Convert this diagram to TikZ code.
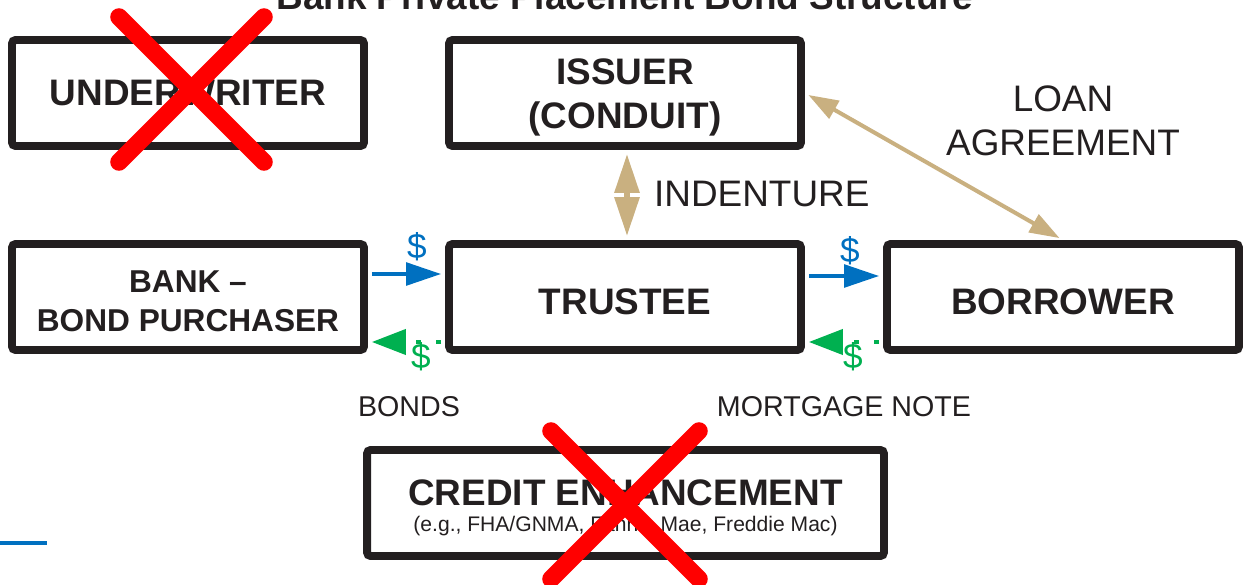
\documentclass[tikz,border=0pt]{standalone}
\usepackage{fontspec}
\setmainfont{Liberation Sans}
\usepackage{tikz}
\usetikzlibrary{arrows.meta, positioning}
\definecolor{boxline}{RGB}{35,31,32}
\definecolor{cashblue}{RGB}{0,112,192}
\definecolor{bondgreen}{RGB}{0,176,80}
\definecolor{legaltan}{RGB}{201,176,128}
\definecolor{crossred}{RGB}{255,0,0}
% taller first line, so the box text sits a little lower
\newcommand{\boxstrut}[1]{\rule{0pt}{#1}}

\begin{document}
\begin{tikzpicture}[x=0.02cm, y=-0.02cm,
    party/.style={draw=boxline, line width=4.5pt, rounded corners=2pt,
        minimum width=7.04cm, minimum height=2.12cm, align=center, inner sep=0pt,
        text=boxline, font=\bfseries\fontsize{21}{25}\selectfont},
    deal/.style={text=boxline, align=center, font=\fontsize{21}{25}\selectfont},
    doc/.style={text=boxline, font=\fontsize{16.3}{19}\selectfont},
    dollar/.style={font=\fontsize{20}{24}\selectfont, anchor=base},
    cash/.style={draw=cashblue, line width=2.3pt, shorten <=2.25pt, shorten >=2.25pt,
        -{Triangle[length=0.7cm, width=0.45cm]}},
    paper/.style={draw=bondgreen, line width=2.3pt, shorten <=2.25pt, shorten >=2.25pt,
        dash pattern=on 0.1cm off 0.3cm, -{Triangle[length=0.68cm, width=0.5cm]}},
    contract/.style={draw=legaltan, shorten <=2.25pt, shorten >=2.25pt},
    cross/.style={draw=crossred, line width=10pt, line cap=round}]
    \useasboundingbox (0,0) rectangle (1249,585);

    % title, cut off at the top edge
    \node[anchor=base, text=boxline, font=\bfseries\fontsize{21}{25}\selectfont] (title) at (625,9)
        {Bank Private Placement Bond Structure};

    % parties
    \node[party] at (188,93)   (uw)       {UNDERWRITER};
    \node[party] at (625,93)   (issuer)   {\boxstrut{20pt}ISSUER\\(CONDUIT)};
    \node[party, font=\bfseries\fontsize{18}{22}\selectfont] at (188,297) (bank)
        {\boxstrut{17pt}BANK --\\BOND PURCHASER};
    \node[party] at (625,297)  (trustee)  {\boxstrut{20pt}TRUSTEE};
    \node[party] at (1063,297) (borrower) {\boxstrut{20pt}BORROWER};
    \node[party, minimum width=10.34cm, font=\fontsize{12}{14.8}\selectfont] at (625.5,503) (credit)
        {{\bfseries\fontsize{21}{25}\selectfont\boxstrut{20pt}CREDIT ENHANCEMENT}\\(e.g., FHA/GNMA, Fannie Mae, Freddie Mac)};

    % money and paper
    \draw[cash] ([yshift=0.46cm]bank.east) -- ([yshift=0.46cm]trustee.west);
    \draw[cash] ([yshift=0.42cm]trustee.east) -- ([yshift=0.42cm]borrower.west);
    \draw[paper] ([yshift=-0.9cm]trustee.west) -- ([yshift=-0.9cm]bank.east);
    \draw[paper] ([yshift=-0.9cm]borrower.west) -- ([yshift=-0.9cm]trustee.east);
    \node[dollar, text=cashblue]  (d1) at (417,258) {\$};
    \node[dollar, text=cashblue]  (d2) at (850,262) {\$};
    \node[dollar, text=bondgreen] (d3) at (421,368) {\$};
    \node[dollar, text=bondgreen] (d4) at (853,368) {\$};

    % agreements
    \draw[contract, line width=3.4pt, {Triangle[length=0.78cm, width=0.48cm]}-{Triangle[length=0.78cm, width=0.48cm]}]
        ([xshift=0.04cm]issuer.south) -- ([xshift=0.04cm]trustee.north);
    \draw[contract, line width=2.3pt, {Triangle[length=0.6cm, width=0.4cm]}-{Triangle[length=0.6cm, width=0.4cm]}]
        (issuer.east) -- (borrower.north);
    \node[deal] (loan) at (1063,121) {LOAN\\AGREEMENT};
    \node[deal, anchor=base west] (indenture) at (648,206) {INDENTURE};
    \node[doc, anchor=base] (bonds) at (409,416) {BONDS};
    \node[doc, anchor=base] (note) at (844,416) {MORTGAGE NOTE};

    % struck out
    \draw[cross] (119,17) -- (264,162);
    \draw[cross] (264,17) -- (119,162);
    \draw[cross] (551,431) -- (699,579);
    \draw[cross] (699,431) -- (551,579);

    \draw[draw=cashblue, line width=2.3pt] (0,543) -- (47,543);
\end{tikzpicture}
\end{document}
